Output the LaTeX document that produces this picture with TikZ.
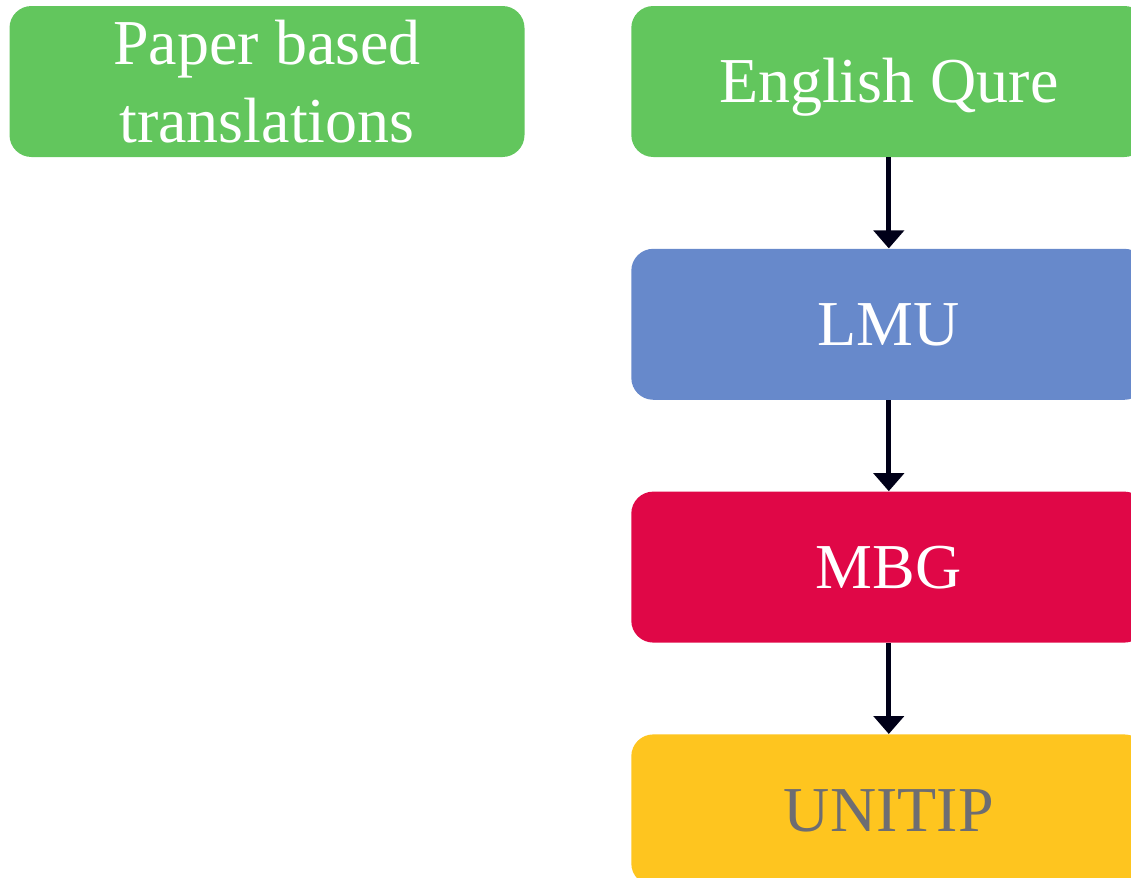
\documentclass[tikz,border=0pt]{standalone}
\usepackage{fontspec}
\setmainfont{Liberation Serif}
\usepackage{xcolor}
\usetikzlibrary{arrows.meta,positioning}

\definecolor{boxgreen}{HTML}{62C65D}
\definecolor{boxblue}{HTML}{6789CB}
\definecolor{boxred}{HTML}{E00747}
\definecolor{boxyellow}{HTML}{FEC51F}
\definecolor{tipgray}{HTML}{6D6D72}
\definecolor{arrowink}{HTML}{000018}

\begin{document}
\begin{tikzpicture}[x=0.5pt, y=-0.5pt, node distance=45.5pt,
  box/.style={rectangle, rounded corners=11pt, minimum width=257.5pt, minimum height=75.5pt,
    inner sep=0pt, align=center, text=white, font=\fontsize{32}{39}\selectfont},
  onebox/.style={box, text height=21.2pt, text depth=0pt}]
\useasboundingbox (0,0) rectangle (1131,878);
\clip (0,0) rectangle (1131,878);

% Left box
\node[box, fill=boxgreen] (paper) at (267,81.5) {Paper based\\translations};

% Chain on the right
\node[onebox, fill=boxgreen, right=53pt of paper] (english) {English Qure};
\node[onebox, fill=boxblue, below=of english] (lmu) {LMU};
\node[onebox, fill=boxred, below=of lmu] (mbg) {MBG};
\node[onebox, fill=boxyellow, text=tipgray, below=of mbg] (unitip) {UNITIP};

% Arrows
\draw[-{Triangle[width=15pt,length=9pt]}, line width=2.5pt, arrowink] (english) -- (lmu);
\draw[-{Triangle[width=15pt,length=9pt]}, line width=2.5pt, arrowink] (lmu) -- (mbg);
\draw[-{Triangle[width=15pt,length=9pt]}, line width=2.5pt, arrowink] (mbg) -- (unitip);
\end{tikzpicture}
\end{document}
